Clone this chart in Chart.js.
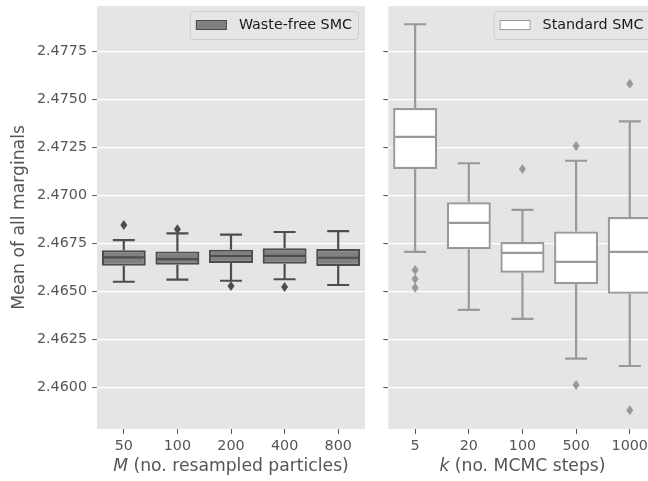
<!DOCTYPE html>
<html>
<head>
<meta charset="utf-8">
<script src="https://cdn.jsdelivr.net/npm/chart.js@4.4.1/dist/chart.umd.min.js"></script>
<style>
  html, body { margin: 0; padding: 0; background: #fff; overflow: hidden; width: 648px; height: 481px; }
  canvas { position: absolute; top: 0; }
  #left { left: 0; }
  #right { left: 376px; }
</style>
</head>
<body>
<canvas id="left" width="376" height="481"></canvas>
<canvas id="right" width="300" height="481"></canvas>
<script>
// y axis (shared)
const yTicks = [2.46, 2.4625, 2.465, 2.4675, 2.47, 2.4725, 2.475, 2.4775];
const yMin = 2.45785;
const yMax = 2.47988;

// Waste-free SMC, by M
const wasteFreeLabels = ["50", "100", "200", "400", "800"];
const wasteFreeLow = [2.46552, 2.46563, 2.46557, 2.46565, 2.46535];
const wasteFreeQ1 = [2.46635, 2.46641, 2.46650, 2.46646, 2.46634];
const wasteFreeMedian = [2.46679, 2.46670, 2.46686, 2.46687, 2.46677];
const wasteFreeQ3 = [2.46716, 2.46710, 2.46719, 2.46726, 2.46722];
const wasteFreeHigh = [2.46769, 2.46804, 2.46797, 2.46811, 2.46816];
const wasteFreeOutliers = [[2.46847], [2.46825], [2.46530], [2.46525], []];

// Standard SMC, by k
const standardLabels = ["5", "20", "100", "500", "1000"];
const standardLow = [2.46707, 2.46405, 2.46359, 2.46151, 2.46113];
const standardQ1 = [2.47139, 2.46721, 2.46599, 2.46539, 2.46490];
const standardMedian = [2.47306, 2.46859, 2.46702, 2.46655, 2.46707];
const standardQ3 = [2.47457, 2.46966, 2.46759, 2.46813, 2.46889];
const standardHigh = [2.47893, 2.47169, 2.46926, 2.47182, 2.47387];
const standardOutliers = [[2.46613, 2.46566, 2.46521], [], [2.47139], [2.47259, 2.46014], [2.47583, 2.45882]];

const FONT = "DejaVu Sans";
const TICK_SIZE = 14.3;
const TITLE_SIZE = 17.2;
const LW = 2.2;

// grey panel background
const panelBg = {
  id: "panelBg",
  beforeDraw(chart) {
    const { ctx, chartArea: a } = chart;
    ctx.save();
    ctx.fillStyle = "#e5e5e5";
    ctx.fillRect(a.left, a.top, a.right - a.left, a.bottom - a.top);
    ctx.restore();
  },
};

// whiskers, medians, fliers, legend, x title
const boxExtras = {
  id: "boxExtras",
  afterDatasetsDraw(chart, args, opts) {
    const { ctx } = chart;
    const x = chart.scales.x, y = chart.scales.y;
    const bars = chart.getDatasetMeta(0).data;
    ctx.save();
    ctx.strokeStyle = opts.edge;
    ctx.fillStyle = opts.edge;
    ctx.lineWidth = LW;
    opts.median.forEach((m, i) => {
      const cx = x.getPixelForValue(i);
      const w = bars[i].width;
      const cap = w / 2;
      const yq1 = y.getPixelForValue(opts.q1[i]);
      const yq3 = y.getPixelForValue(opts.q3[i]);
      const ylo = y.getPixelForValue(opts.low[i]);
      const yhi = y.getPixelForValue(opts.high[i]);
      const ym = y.getPixelForValue(m);
      ctx.beginPath();
      ctx.moveTo(cx, yq1); ctx.lineTo(cx, ylo);
      ctx.moveTo(cx, yq3); ctx.lineTo(cx, yhi);
      ctx.moveTo(cx - cap / 2, ylo); ctx.lineTo(cx + cap / 2, ylo);
      ctx.moveTo(cx - cap / 2, yhi); ctx.lineTo(cx + cap / 2, yhi);
      ctx.moveTo(cx - w / 2 + 1, ym); ctx.lineTo(cx + w / 2 - 1, ym);
      ctx.stroke();
      opts.outliers[i].forEach((v) => {
        const py = y.getPixelForValue(v);
        ctx.beginPath();
        ctx.moveTo(cx, py - 5);
        ctx.lineTo(cx + 3.5, py);
        ctx.lineTo(cx, py + 5);
        ctx.lineTo(cx - 3.5, py);
        ctx.closePath();
        ctx.fill();
      });
    });
    ctx.restore();
  },
  afterDraw(chart, args, opts) {
    const { ctx, chartArea: a } = chart;
    ctx.save();
    // legend
    ctx.font = TICK_SIZE + "px '" + FONT + "'";
    const tw = ctx.measureText(opts.name).width;
    const lw = 6 + 31 + 12 + tw + 6;
    const lx = a.right - 7 - lw;
    const ly = a.top + 5;
    ctx.fillStyle = "#e5e5e5";
    ctx.strokeStyle = "#cccccc";
    ctx.lineWidth = 1;
    ctx.beginPath();
    ctx.roundRect(lx + 0.5, ly + 0.5, lw, 28, 3);
    ctx.fill();
    ctx.stroke();
    ctx.fillStyle = opts.fill;
    ctx.strokeStyle = opts.edge;
    ctx.fillRect(lx + 6, ly + 9, 31, 10);
    ctx.strokeRect(lx + 6.5, ly + 9.5, 30, 9);
    ctx.fillStyle = "#1a1a1a";
    ctx.textBaseline = "middle";
    ctx.textAlign = "left";
    ctx.fillText(opts.name, lx + 49, ly + 14.5);
    // x axis title with italic symbol
    const f1 = "italic " + TITLE_SIZE + "px '" + FONT + "'";
    const f2 = TITLE_SIZE + "px '" + FONT + "'";
    ctx.font = f1;
    const w1 = ctx.measureText(opts.symbol).width;
    ctx.font = f2;
    const w2 = ctx.measureText(opts.rest).width;
    const sx = (a.left + a.right) / 2 - (w1 + w2) / 2;
    ctx.fillStyle = "#555555";
    ctx.font = f1;
    ctx.fillText(opts.symbol, sx, 467);
    ctx.font = f2;
    ctx.fillText(opts.rest, sx + w1, 467);
    ctx.restore();
  },
};

function makeChart(id, p) {
  return new Chart(document.getElementById(id), {
    type: "bar",
    data: {
      labels: p.labels,
      datasets: [
        {
          label: p.name,
          data: p.q1.map((v, i) => [v, p.q3[i]]),
          backgroundColor: p.fill,
          borderColor: p.edge,
          borderWidth: LW,
          borderSkipped: false,
          barPercentage: 0.82,
          categoryPercentage: 1,
        },
      ],
    },
    options: {
      responsive: false,
      animation: false,
      devicePixelRatio: 1,
      layout: { padding: { top: 6, right: p.padRight, left: 0, bottom: 0 } },
      plugins: {
        legend: { display: false },
        tooltip: { enabled: false },
        boxExtras: p,
      },
      scales: {
        x: {
          grid: { display: true, drawOnChartArea: false, offset: false, tickLength: 5, tickColor: "#555555", tickWidth: 1 },
          border: { display: false },
          ticks: { color: "#555555", font: { family: FONT, size: TICK_SIZE }, padding: 4, maxRotation: 0 },
          afterFit: (s) => { s.height = 52; s.paddingLeft = 0; s.paddingRight = 0; },
        },
        y: {
          min: yMin,
          max: yMax,
          afterBuildTicks: (s) => { s.ticks = yTicks.map((v) => ({ value: v })); },
          grid: { color: "#ffffff", lineWidth: 1.2, tickLength: 5, tickColor: "#555555", tickWidth: 1 },
          border: { display: false },
          ticks: {
            display: p.showY,
            color: "#555555",
            font: { family: FONT, size: TICK_SIZE },
            padding: 5,
            callback: (v) => Number(v).toFixed(4),
          },
          title: {
            display: p.showY,
            text: "Mean of all marginals",
            color: "#555555",
            font: { family: FONT, size: TITLE_SIZE },
            padding: { top: 9, bottom: 0 },
          },
          afterFit: (s) => { s.width = p.yWidth; s.paddingTop = 0; s.paddingBottom = 0; },
        },
      },
    },
    plugins: [panelBg, boxExtras],
  });
}

makeChart("left", {
  name: "Waste-free SMC",
  labels: wasteFreeLabels,
  low: wasteFreeLow, q1: wasteFreeQ1, median: wasteFreeMedian, q3: wasteFreeQ3, high: wasteFreeHigh,
  outliers: wasteFreeOutliers,
  fill: "#808080", edge: "#4d4d4d",
  symbol: "M", rest: " (no. resampled particles)",
  showY: true, yWidth: 97, padRight: 11,
});

makeChart("right", {
  name: "Standard SMC",
  labels: standardLabels,
  low: standardLow, q1: standardQ1, median: standardMedian, q3: standardQ3, high: standardHigh,
  outliers: standardOutliers,
  fill: "#ffffff", edge: "#999999",
  symbol: "k", rest: " (no. MCMC steps)",
  showY: false, yWidth: 12.3, padRight: 19.4,
});
</script>
</body>
</html>
